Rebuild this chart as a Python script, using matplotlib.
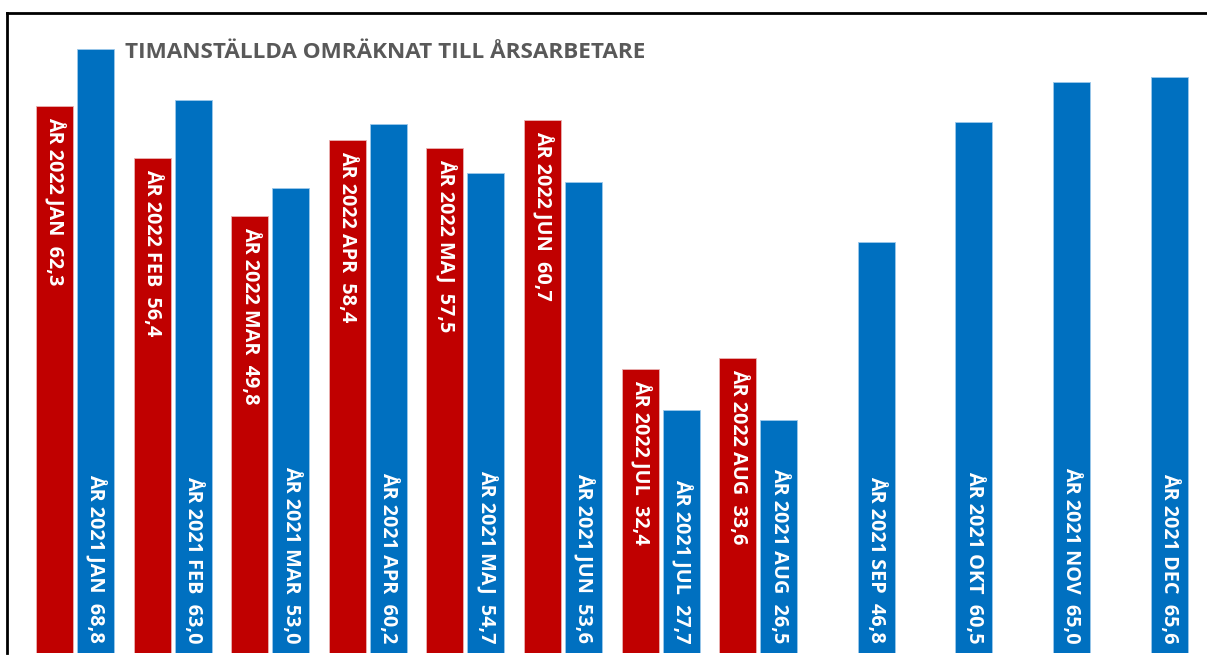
import matplotlib
matplotlib.use("Agg")
import matplotlib.pyplot as plt
import numpy as np

months = ["JAN", "FEB", "MAR", "APR", "MAJ", "JUN", "JUL", "AUG", "SEP", "OKT", "NOV", "DEC"]
values_2022 = [62.3, 56.4, 49.8, 58.4, 57.5, 60.7, 32.4, 33.6]
values_2021 = [68.8, 63.0, 53.0, 60.2, 54.7, 53.6, 27.7, 26.5, 46.8, 60.5, 65.0, 65.6]
title = "TIMANSTÄLLDA OMRÄKNAT TILL ÅRSARBETARE"

RED = "#C00000"
BLUE = "#0070C0"
W, H = 1207, 665

plt.rcParams['font.family'] = ['Open Sans', 'DejaVu Sans']

fig = plt.figure(figsize=(W / 100, H / 100), dpi=100)
ax = fig.add_axes([7 / W, 12 / H, 1200 / W, 640 / H])

bw = 0.379
off = 0.21
x21 = np.arange(len(values_2021))
x22 = np.arange(len(values_2022))

ax.bar(x22 - off, values_2022, width=bw, color=RED, edgecolor="#E9B3B3", linewidth=0.6)
ax.bar(x21 + off, values_2021, width=bw, color=BLUE, edgecolor="#9CC8EA", linewidth=0.6)

def fmt(v):
    return f"{v:.1f}".replace(".", ",")

for i, v in enumerate(values_2022):
    ax.annotate(f"ÅR 2022 {months[i]}  {fmt(v)}", xy=(i - off, v), xytext=(0, -8),
                textcoords="offset points", rotation=-90, ha="center", va="top",
                color="white", fontsize=14.3, fontweight="bold")

for i, v in enumerate(values_2021):
    ax.annotate(f"ÅR 2021 {months[i]}  {fmt(v)}", xy=(i + off, 0), xytext=(0, 7),
                textcoords="offset points", rotation=-90, ha="center", va="bottom",
                color="white", fontsize=14.3, fontweight="bold")

ax.set_xlim(-0.697, -0.697 + 1200 / 97.6)
ax.set_ylim(0, 72.9)
ax.set_xticks([])
ax.set_yticks([])
for s in ["right", "bottom"]:
    ax.spines[s].set_visible(False)
for s in ["left", "top"]:
    ax.spines[s].set_linewidth(2)
    ax.spines[s].set_color("black")

fig.text(125 / W, 1 - 52 / H, title, ha="left", va="center", color="#595959",
         fontsize=16.2, fontweight="bold")

fig.savefig("out.png", dpi=100)
